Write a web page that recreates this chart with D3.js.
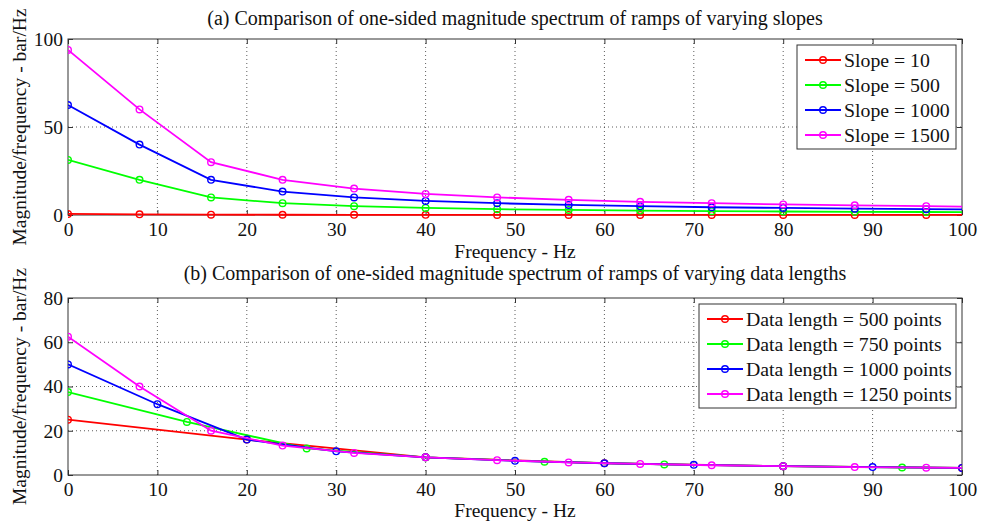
<!DOCTYPE html>
<html>
<head>
<meta charset="utf-8">
<script src="https://cdn.jsdelivr.net/npm/d3@7"></script>
<style>
  body { margin: 0; background: #fff; }
</style>
</head>
<body>
<div class="d3-wrapper"></div>
<script>
// (a) ramps of varying slopes, bins every 8 Hz
var slopeFreqs = [0, 8, 16, 24, 32, 40, 48, 56, 64, 72, 80, 88, 96, 104];
var slope10 = [0.63, 0.4, 0.2, 0.13, 0.1, 0.08, 0.07, 0.06, 0.05, 0.04, 0.04, 0.04, 0.03, 0.03];
var slope500 = [31.3, 20, 10, 6.7, 5, 4, 3.3, 2.9, 2.5, 2.2, 2, 1.8, 1.7, 1.5];
var slope1000 = [62.5, 40, 20, 13.3, 10, 8, 6.7, 5.7, 5, 4.4, 4, 3.6, 3.3, 3.1];
var slope1500 = [93.8, 60, 30, 20, 15, 12, 10, 8.6, 7.5, 6.7, 6, 5.5, 5, 4.6];
var slopeLabels = ["Slope = 10", "Slope = 500", "Slope = 1000", "Slope = 1500"];

// (b) ramps of varying data lengths
var freqs500 = [0, 20, 40, 60, 80, 100];
var len500 = [25, 16, 8, 5.3, 4, 3.2];
var freqs750 = [0, 13.3, 26.7, 40, 53.3, 66.7, 80, 93.3, 106.7];
var len750 = [37.5, 24, 12, 8, 6, 4.8, 4, 3.4, 3];
var freqs1000 = [0, 10, 20, 30, 40, 50, 60, 70, 80, 90, 100];
var len1000 = [50, 32, 16, 10.7, 8, 6.4, 5.3, 4.6, 4, 3.6, 3.2];
var freqs1250 = [0, 8, 16, 24, 32, 40, 48, 56, 64, 72, 80, 88, 96, 104];
var len1250 = [62.5, 40, 20, 13.3, 10, 8, 6.7, 5.7, 5, 4.4, 4, 3.6, 3.3, 3.1];
var lengthLabels = ["Data length = 500 points", "Data length = 750 points", "Data length = 1000 points", "Data length = 1250 points"];

var colors = ["#ff0000", "#00ff00", "#0000ff", "#ff00ff"];
var xTicks = [0, 10, 20, 30, 40, 50, 60, 70, 80, 90, 100];
var FONT = "'Liberation Serif', 'Times New Roman', Times, serif";

var canvas = d3.select(".d3-wrapper").append("svg").attr("width", 981).attr("height", 525)
  .attr("font-family", FONT);

var toPoints = function(xs, ys) {
  return xs.map(function(x, i) { return {x: x, y: ys[i]}; });
};

var drawPanel = function(opt) {
  var x = d3.scaleLinear().domain([0, 100]).range([opt.left, opt.right]);
  var y = d3.scaleLinear().domain([0, opt.yMax]).range([opt.bottom, opt.top]);
  var g = canvas.append("g");

  g.append("rect").attr("x", opt.left).attr("y", opt.top)
    .attr("width", opt.right - opt.left).attr("height", opt.bottom - opt.top).attr("fill", "#fff");

  // dotted grid
  g.selectAll(".gx").data(xTicks.slice(1, -1)).enter().append("line")
    .attr("x1", function(d) { return x(d); }).attr("x2", function(d) { return x(d); })
    .attr("y1", opt.top).attr("y2", opt.bottom)
    .attr("stroke", "#333").attr("stroke-width", 0.8).attr("stroke-dasharray", "1,3");
  g.selectAll(".gy").data(opt.yTicks.slice(1, -1)).enter().append("line")
    .attr("x1", opt.left).attr("x2", opt.right)
    .attr("y1", function(d) { return y(d); }).attr("y2", function(d) { return y(d); })
    .attr("stroke", "#333").attr("stroke-width", 0.8).attr("stroke-dasharray", "1,3");

  // axes, ticks pointing inward
  var xAxis = g.append("g").attr("transform", "translate(0," + opt.bottom + ")")
    .call(d3.axisBottom(x).tickValues(xTicks).tickSizeInner(-5).tickSizeOuter(0).tickPadding(7.5));
  g.append("g").attr("transform", "translate(0," + opt.top + ")")
    .call(d3.axisTop(x).tickValues(xTicks).tickSizeInner(-5).tickSizeOuter(0).tickFormat(""));
  g.append("g").attr("transform", "translate(" + opt.left + ",0)")
    .call(d3.axisLeft(y).tickValues(opt.yTicks).tickSizeInner(-5).tickSizeOuter(0).tickPadding(5));
  g.append("g").attr("transform", "translate(" + opt.right + ",0)")
    .call(d3.axisRight(y).tickValues(opt.yTicks).tickSizeInner(-5).tickSizeOuter(0).tickFormat(""));
  g.selectAll(".domain").remove();
  g.selectAll("g").attr("font-family", FONT).attr("font-size", 19.5);
  g.selectAll(".tick line").attr("stroke", "#333");
  g.selectAll(".tick text").attr("font-family", FONT).attr("font-size", 19.5).attr("fill", "#111");
  xAxis.selectAll(".tick text").attr("dy", "0.71em");

  g.append("rect").attr("x", opt.left).attr("y", opt.top)
    .attr("width", opt.right - opt.left).attr("height", opt.bottom - opt.top)
    .attr("fill", "none").attr("stroke", "#333").attr("stroke-width", 1);

  // series
  var clipId = "clip" + opt.name;
  canvas.append("clipPath").attr("id", clipId).append("rect")
    .attr("x", opt.left).attr("y", opt.top - 4)
    .attr("width", opt.right - opt.left).attr("height", opt.bottom - opt.top + 8);
  var line = d3.line().x(function(d) { return x(d.x); }).y(function(d) { return y(d.y); });
  var plot = g.append("g").attr("clip-path", "url(#" + clipId + ")");
  for (var index = 0; index < opt.series.length; index++) {
    var pts = opt.series[index];
    plot.append("path").datum(pts).attr("d", line).attr("fill", "none")
      .attr("stroke", colors[index]).attr("stroke-width", 1.8);
    plot.selectAll(".m" + index).data(pts.filter(function(d) { return d.x <= 100; })).enter().append("circle")
      .attr("cx", function(d) { return x(d.x); }).attr("cy", function(d) { return y(d.y); })
      .attr("r", 3.3).attr("fill", "none").attr("stroke", colors[index]).attr("stroke-width", 1.4);
  }

  // titles
  g.append("text").attr("x", (opt.left + opt.right) / 2).attr("y", opt.titleY)
    .attr("text-anchor", "middle").attr("font-size", 20).attr("fill", "#111").text(opt.title);
  g.append("text").attr("x", (opt.left + opt.right) / 2).attr("y", opt.xLabelY)
    .attr("text-anchor", "middle").attr("font-size", 19.5).attr("fill", "#111").text("Frequency - Hz");
  g.append("text").attr("transform", "translate(26," + (opt.top + opt.bottom) / 2 + ") rotate(-90)")
    .attr("text-anchor", "middle").attr("font-size", 19.5).attr("fill", "#111").text("Magnitude/frequency - bar/Hz");

  // legend
  var lg = g.append("g");
  lg.append("rect").attr("x", opt.legend.x).attr("y", opt.legend.y)
    .attr("width", opt.legend.w).attr("height", opt.legend.h)
    .attr("fill", "#fff").attr("stroke", "#333").attr("stroke-width", 1);
  for (var k = 0; k < opt.labels.length; k++) {
    var ly = opt.legend.y + 15 + k * 25;
    lg.append("line").attr("x1", opt.legend.x + 8).attr("x2", opt.legend.x + 44)
      .attr("y1", ly).attr("y2", ly).attr("stroke", colors[k]).attr("stroke-width", 1.8);
    lg.append("circle").attr("cx", opt.legend.x + 26).attr("cy", ly).attr("r", 3.3)
      .attr("fill", "none").attr("stroke", colors[k]).attr("stroke-width", 1.4);
    lg.append("text").attr("x", opt.legend.x + 47).attr("y", ly).attr("dy", "0.33em")
      .attr("font-size", 19.8).attr("fill", "#111").text(opt.labels[k]);
  }
}; // end drawPanel

drawPanel({
  name: "a", left: 68, right: 962, top: 39, bottom: 215, yMax: 100, yTicks: [0, 50, 100],
  titleY: 25, xLabelY: 258,
  title: "(a) Comparison of one-sided magnitude spectrum of ramps of varying slopes",
  series: [toPoints(slopeFreqs, slope10), toPoints(slopeFreqs, slope500),
           toPoints(slopeFreqs, slope1000), toPoints(slopeFreqs, slope1500)],
  labels: slopeLabels,
  legend: {x: 797, y: 45, w: 159, h: 104}
});

drawPanel({
  name: "b", left: 68, right: 962, top: 298, bottom: 475, yMax: 80, yTicks: [0, 20, 40, 60, 80],
  titleY: 280, xLabelY: 517,
  title: "(b) Comparison of one-sided magnitude spectrum of ramps of varying data lengths",
  series: [toPoints(freqs500, len500), toPoints(freqs750, len750),
           toPoints(freqs1000, len1000), toPoints(freqs1250, len1250)],
  labels: lengthLabels,
  legend: {x: 699, y: 304, w: 257, h: 104}
});
</script>
</body>
</html>
